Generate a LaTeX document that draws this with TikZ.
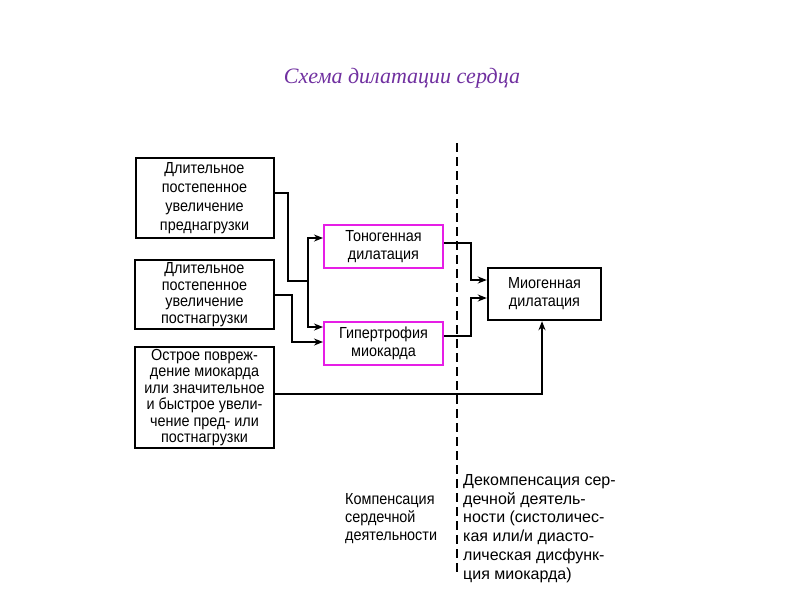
\documentclass[tikz,border=0pt]{standalone}
\usepackage{fontspec}
\setmainfont{Liberation Sans}[FakeStretch=0.9]
\newfontfamily\widefont{Liberation Sans}
\newfontfamily\titlefont{Liberation Serif}
\usetikzlibrary{arrows.meta}
\definecolor{ttl}{HTML}{7030A0}
\definecolor{mag}{HTML}{E61EE6}
\begin{document}
\begin{tikzpicture}[x=1pt,y=-1pt,
  box/.style={draw=black,line width=2pt,inner sep=0pt,align=center,font=\fontsize{16}{18}\selectfont},
  mbox/.style={draw=mag,line width=2pt,inner sep=0pt,align=center,font=\fontsize{16}{18}\selectfont},
  conn/.style={line width=1.8pt},
  arr/.style={line width=1.8pt,-{Stealth[length=9pt,width=7pt]}},
  note/.style={align=left,anchor=north west,inner sep=0pt,font=\fontsize{16}{18.8}\selectfont}]
\useasboundingbox (0,0) rectangle (800,600);
\node[font=\titlefont\itshape\fontsize{22}{24}\selectfont,text=ttl] (title) at (402,78) {Схема дилатации сердца};
\node[box,minimum width=138pt,minimum height=80pt,font=\fontsize{16}{19}\selectfont] (b1) at (204.5,198) {Длительное\\постепенное\\увеличение\\преднагрузки};
\node[box,minimum width=139pt,minimum height=69pt,font=\fontsize{16}{16.5}\selectfont] (b2) at (204.5,294.5) {Длительное\\постепенное\\увеличение\\постнагрузки};
\node[box,minimum width=139pt,minimum height=101pt,font=\fontsize{16}{16.5}\selectfont] (b3) at (204.5,397.5) {Острое повреж-\\дение миокарда\\или значительное\\и быстрое увели-\\чение пред- или\\постнагрузки};
\node[mbox,minimum width=119pt,minimum height=43pt] (t) at (383.5,246.5) {Тоногенная\\дилатация};
\node[mbox,minimum width=119pt,minimum height=43pt] (h) at (383.5,343.5) {Гипертрофия\\миокарда};
\node[box,line width=2.4pt,minimum width=113pt,minimum height=52pt] (m) at (544.5,294) {Миогенная\\дилатация};
\coordinate (dtop) at (457,143);
\coordinate (dbot) at (457,575);
\draw[line width=2.5pt,dash pattern=on 9pt off 5pt] (dtop) -- (dbot);
% connectors
\coordinate (j) at (308,281);
\draw[conn] (b1.east |- 0,193) -| (288,281) -- (j);
\draw[arr] (j) |- (t.west |- 0,238);
\draw[arr] (j) |- (h.west |- 0,327);
\draw[arr] (b2.east |- 0,295) -| (292,342) -- (h.west |- 0,342);
\draw[arr] (b3.east |- 0,394) -| (m.south -| 542,0);
\draw[arr] (t.east |- 0,243) -| (471,280) -- (m.west |- 0,280);
\draw[arr] (h.east |- 0,336) -| (471,298) -- (m.west |- 0,298);
\node[note,font=\fontsize{16}{18}\selectfont] (comp) at (345,493) {Компенсация\\сердечной\\деятельности};
\node[note,font=\widefont\fontsize{16}{18.8}\selectfont] (decomp) at (463,474) {Декомпенсация сер-\\дечной деятель-\\ности (систоличес-\\кая или/и диасто-\\лическая дисфунк-\\ция миокарда)};
\end{tikzpicture}
\end{document}
